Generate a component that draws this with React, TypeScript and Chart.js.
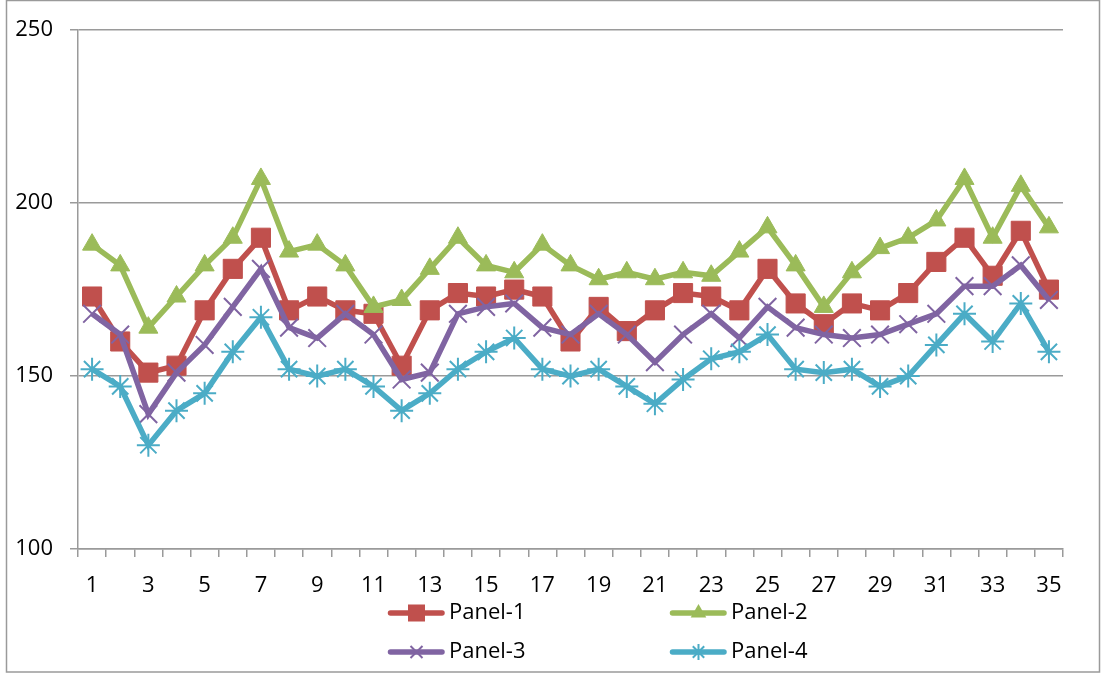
import React, { useEffect, useRef } from 'react';
import { Chart, registerables } from 'chart.js';

Chart.register(...registerables);

const categories = ['1','2','3','4','5','6','7','8','9','10','11','12','13','14','15','16','17','18','19','20','21','22','23','24','25','26','27','28','29','30','31','32','33','34','35'];

const panel1 = [173,160,151,153,169,181,190,169,173,169,168,153,169,174,173,175,173,160,170,163,169,174,173,169,181,171,165,171,169,174,183,190,179,192,175];
const panel2 = [188,182,164,173,182,190,207,186,188,182,170,172,181,190,182,180,188,182,178,180,178,180,179,186,193,182,170,180,187,190,195,207,190,205,193];
const panel3 = [168,162,139,151,159,170,181,164,161,168,162,149,151,168,170,171,164,162,168,162,154,162,168,161,170,164,162,161,162,165,168,176,176,182,172];
const panel4 = [152,147,130,140,145,157,167,152,150,152,147,140,145,152,157,161,152,150,152,147,142,149,155,157,162,152,151,152,147,150,159,168,160,171,157];

const seriesNames = ['Panel-1', 'Panel-2', 'Panel-3', 'Panel-4'];
const seriesColors = ['#C0504D', '#9BBB59', '#8064A2', '#4BACC6'];
const yTicks = [100, 150, 200, 250];

const FONT = "'Open Sans', 'Liberation Sans', sans-serif";

function drawMarker(ctx: CanvasRenderingContext2D, kind: number, cx: number, cy: number, color: string) {
  ctx.save();
  ctx.fillStyle = color;
  ctx.strokeStyle = color;
  ctx.lineWidth = 2;
  ctx.lineCap = 'butt';
  if (kind === 0) {
    ctx.fillRect(cx - 8.5, cy - 8.5, 17, 17);
  } else if (kind === 1) {
    const r = 9;
    ctx.beginPath();
    ctx.moveTo(cx, cy - r);
    ctx.lineTo(cx + r * 0.866, cy + r / 2);
    ctx.lineTo(cx - r * 0.866, cy + r / 2);
    ctx.closePath();
    ctx.fill();
  } else if (kind === 2) {
    const d = 6;
    ctx.beginPath();
    ctx.moveTo(cx - d, cy - d); ctx.lineTo(cx + d, cy + d);
    ctx.moveTo(cx + d, cy - d); ctx.lineTo(cx - d, cy + d);
    ctx.stroke();
  } else {
    const r = 8;
    const d = 5.7;
    ctx.beginPath();
    ctx.moveTo(cx, cy - r); ctx.lineTo(cx, cy + r);
    ctx.moveTo(cx - d, cy - d); ctx.lineTo(cx + d, cy + d);
    ctx.moveTo(cx + d, cy - d); ctx.lineTo(cx - d, cy + d);
    ctx.stroke();
  }
  ctx.restore();
}

const customLegend = {
  id: 'customLegend',
  afterDraw(chart: any) {
    const ctx: CanvasRenderingContext2D = chart.ctx;
    ctx.save();
    ctx.strokeStyle = '#9a9a9a';
    ctx.lineWidth = 1.5;
    ctx.strokeRect(6.5, 0.5, 1093, 671.5);
    const pos = [[388, 613], [670, 613], [388, 652], [670, 652]];
    seriesNames.forEach((name, i) => {
      const [x, y] = pos[i];
      const color = seriesColors[i];
      ctx.strokeStyle = color;
      ctx.lineWidth = 5.5;
      ctx.lineCap = 'round';
      ctx.beginPath();
      ctx.moveTo(x + 2.5, y);
      ctx.lineTo(x + 54, y);
      ctx.stroke();
      drawMarker(ctx, i, x + 28.5, y, color);
      ctx.fillStyle = '#000';
      ctx.font = `22px ${FONT}`;
      ctx.textBaseline = 'middle';
      ctx.textAlign = 'left';
      ctx.fillText(name, x + 61, y);
    });
    ctx.restore();
  },
};

export default function App() {
  const canvasRef = useRef<HTMLCanvasElement | null>(null);

  useEffect(() => {
    if (!canvasRef.current) return;
    const values = [panel1, panel2, panel3, panel4];
    const styles: any[] = [
      { pointStyle: 'rect', pointRadius: 13.5, pointBorderWidth: 1 },
      { pointStyle: 'triangle', pointRadius: 11, pointBorderWidth: 1 },
      { pointStyle: 'crossRot', pointRadius: 12.5, pointBorderWidth: 2 },
      { pointStyle: 'star', pointRadius: 11.5, pointBorderWidth: 2 },
    ];
    const chart = new Chart(canvasRef.current, {
      type: 'line',
      data: {
        labels: categories,
        datasets: values.map((v, i) => ({
          label: seriesNames[i],
          data: v,
          borderColor: seriesColors[i],
          backgroundColor: seriesColors[i],
          pointBackgroundColor: seriesColors[i],
          pointBorderColor: seriesColors[i],
          borderWidth: 5.5,
          tension: 0,
          order: 4 - i,
          ...styles[i],
        })),
      },
      options: {
        animation: false,
        responsive: false,
        devicePixelRatio: 1,
        layout: { padding: { left: 0, top: 28, right: 40, bottom: 0 } },
        plugins: {
          legend: { display: false },
          tooltip: { enabled: false },
        },
        scales: {
          x: {
            type: 'category',
            offset: true,
            grid: {
              offset: true,
              drawOnChartArea: false,
              drawTicks: true,
              tickLength: 8,
              color: '#9a9a9a',
              lineWidth: 1.5,
            },
            border: { display: true, color: '#9a9a9a', width: 1.5 },
            ticks: {
              autoSkip: false,
              maxRotation: 0,
              padding: 16,
              color: '#000',
              font: { family: FONT, size: 22 },
              callback: (_v: any, idx: number) => (idx % 2 === 0 ? categories[idx] : ''),
            },
            afterFit: (scale: any) => { scale.height = 128; },
          },
          y: {
            min: 100,
            max: 250,
            afterBuildTicks: (scale: any) => { scale.ticks = yTicks.map((v) => ({ value: v })); },
            grid: {
              drawOnChartArea: true,
              drawTicks: true,
              tickLength: 8,
              color: '#9a9a9a',
              lineWidth: 1.5,
            },
            border: { display: true, color: '#9a9a9a', width: 1.5 },
            ticks: {
              padding: 17,
              color: '#000',
              font: { family: FONT, size: 22 },
            },
            afterFit: (scale: any) => { scale.width = 78; },
          },
        },
      },
      plugins: [customLegend],
    });
    return () => chart.destroy();
  }, []);

  return (
    <div style={{ position: 'absolute', left: 0, top: 0, width: 1103, height: 677, background: '#fff' }}>
      <canvas ref={canvasRef} width={1103} height={677} style={{ width: 1103, height: 677, display: 'block' }} />
    </div>
  );
}
